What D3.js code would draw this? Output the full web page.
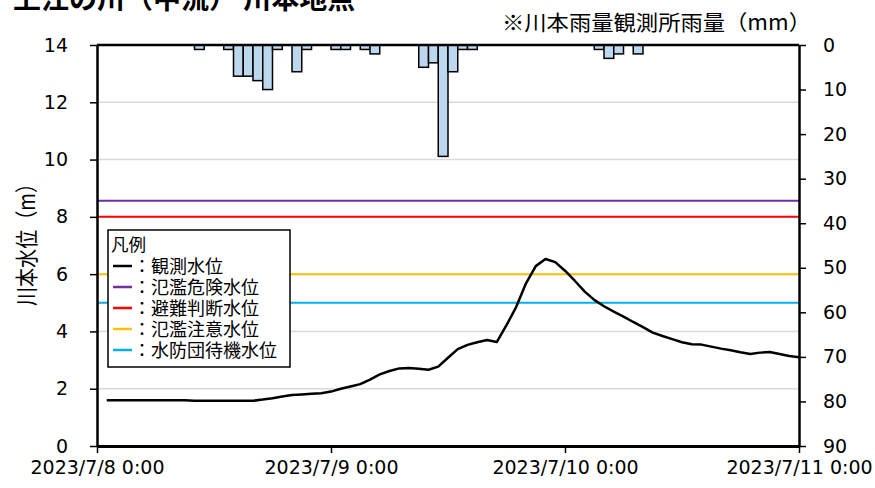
<!DOCTYPE html>
<html>
<head>
<meta charset="utf-8">
<script src="https://cdn.jsdelivr.net/npm/d3@7.9.0/dist/d3.min.js"></script>
<style>
  body { margin: 0; background: #fff; }
  svg { display: block; }
  .num { font-family: "DejaVu Sans", sans-serif; font-size: 19px; fill: #000; }
  .jp { font-family: "Noto Sans CJK JP", sans-serif; fill: #000; }
</style>
</head>
<body>
<svg id="chart" width="875" height="488"></svg>
<script>
const startTime = new Date(2023, 6, 8, 0, 0);
const endTime = new Date(2023, 6, 11, 0, 0);

// hourly water level (m), 7/8 1:00 ... 7/11 0:00
const levelValues = [
  1.60, 1.60, 1.60, 1.60, 1.60, 1.60, 1.60, 1.60, 1.60,
  1.58, 1.58, 1.58, 1.58, 1.58, 1.58, 1.58,
  1.62, 1.67, 1.73, 1.78, 1.80, 1.82, 1.84, 1.90,
  2.00, 2.08, 2.16, 2.32, 2.50, 2.62, 2.71, 2.72,
  2.70, 2.66, 2.77, 3.08, 3.38, 3.53, 3.62, 3.70,
  3.63, 4.22, 4.86, 5.68, 6.28, 6.53, 6.42, 6.12,
  5.77, 5.40, 5.10, 4.88, 4.69, 4.52, 4.33, 4.15,
  3.96, 3.84, 3.73, 3.62, 3.55, 3.54, 3.47, 3.40,
  3.34, 3.27, 3.21, 3.26, 3.28, 3.21, 3.14, 3.10
];

// hourly rainfall (mm), one value per hour from 7/8 0:00
const rainValues = [
  0, 0, 0, 0, 0, 0, 0, 0, 0, 0, 1, 0, 0, 1, 7, 7, 8, 10, 1, 0, 6, 1, 0, 0,
  1, 1, 0, 1, 2, 0, 0, 0, 0, 5, 4, 25, 6, 1, 1, 0, 0, 0, 0, 0, 0, 0, 0, 0,
  0, 0, 0, 1, 3, 2, 0, 2, 0, 0, 0, 0, 0, 0, 0, 0, 0, 0, 0, 0, 0, 0, 0, 0
];

const levelTicks = [0, 2, 4, 6, 8, 10, 12, 14];
const rainTicks = [0, 10, 20, 30, 40, 50, 60, 70, 80, 90];

const thresholdNames = ['氾濫危険水位', '避難判断水位', '氾濫注意水位', '水防団待機水位'];
const thresholdLevels = [8.56, 8.0, 6.0, 5.0];
const thresholdColors = ['#7030A0', '#FF0000', '#FFC000', '#00B0F0'];

const svg = d3.select('#chart');
const plotL = 97, plotR = 799, plotT = 45, plotB = 446;

const x = d3.scaleTime().domain([startTime, endTime]).range([plotL, plotR]);
const yLevel = d3.scaleLinear().domain([0, 14]).range([plotB, plotT]);
const yRain = d3.scaleLinear().domain([0, 90]).range([plotT, plotB]);

// title (cut off at the top edge)
svg.append('text')
  .attr('class', 'jp')
  .attr('x', 13).attr('y', 9)
  .attr('font-size', 28).attr('font-weight', 'bold')
  .text('上江の川（中流） 川本地点');

// gridlines
svg.append('g')
  .selectAll('line')
  .data(levelTicks.filter((d) => d > 0 && d < 14))
  .join('line')
  .attr('x1', plotL).attr('x2', plotR)
  .attr('y1', (d) => yLevel(d)).attr('y2', (d) => yLevel(d))
  .attr('stroke', '#D9D9D9').attr('stroke-width', 1.5);

// threshold lines
svg.append('g')
  .selectAll('line')
  .data(thresholdLevels)
  .join('line')
  .attr('x1', plotL).attr('x2', plotR)
  .attr('y1', (d) => yLevel(d)).attr('y2', (d) => yLevel(d))
  .attr('stroke', (d, i) => thresholdColors[i]).attr('stroke-width', 2);

// rain bars hanging from the top
const rainData = rainValues.map((v, i) => ({ t: d3.timeHour.offset(startTime, i), v }));
svg.append('g')
  .selectAll('rect')
  .data(rainData.filter((d) => d.v > 0))
  .join('rect')
  .attr('x', (d) => x(d.t))
  .attr('width', (d) => x(d3.timeHour.offset(d.t, 1)) - x(d.t))
  .attr('y', yRain(0))
  .attr('height', (d) => yRain(d.v) - yRain(0))
  .attr('fill', '#BDD7EE')
  .attr('stroke', '#000').attr('stroke-width', 1.5);

// water level line
const levelData = levelValues.map((v, i) => ({ t: d3.timeHour.offset(startTime, i + 1), v }));
svg.append('path')
  .datum(levelData)
  .attr('fill', 'none')
  .attr('stroke', '#000').attr('stroke-width', 2.5)
  .attr('stroke-linejoin', 'round')
  .attr('d', d3.line().x((d) => x(d.t)).y((d) => yLevel(d.v)));

// axes
const fmt = d3.timeFormat('%Y/%-m/%-d %-H:%M');
const xAxis = svg.append('g')
  .attr('transform', `translate(0,${plotB})`)
  .call(d3.axisBottom(x).tickValues(d3.timeDay.range(startTime, d3.timeHour.offset(endTime, 1))).tickFormat(fmt).tickSize(7).tickPadding(8).tickSizeOuter(0));

const yAxisL = svg.append('g')
  .attr('transform', `translate(${plotL},0)`)
  .call(d3.axisLeft(yLevel).tickValues(levelTicks).tickSize(7).tickPadding(22).tickSizeOuter(0));

const yAxisR = svg.append('g')
  .attr('transform', `translate(${plotR},0)`)
  .call(d3.axisRight(yRain).tickValues(rainTicks).tickSize(7).tickPadding(17).tickSizeOuter(0));

[xAxis, yAxisL, yAxisR].forEach((g) => {
  g.attr('font-family', null).attr('font-size', null);
  g.selectAll('text').attr('class', 'num').attr('fill', null);
  g.selectAll('line').attr('stroke', '#000').attr('stroke-width', 1.5);
  g.select('.domain').attr('stroke', '#000').attr('stroke-width', 2.5);
});
xAxis.select('.domain').attr('stroke-width', 3);

// top border
svg.append('line')
  .attr('x1', plotL).attr('x2', plotR).attr('y1', plotT).attr('y2', plotT)
  .attr('stroke', '#000').attr('stroke-width', 2.5);

// axis titles
svg.append('text')
  .attr('class', 'jp')
  .attr('transform', 'translate(35,240) rotate(-90)')
  .attr('text-anchor', 'middle')
  .attr('font-size', 23)
  .attr('textLength', 132).attr('lengthAdjust', 'spacingAndGlyphs')
  .text('川本水位（m）');

svg.append('text')
  .attr('class', 'jp')
  .attr('x', 502).attr('y', 30)
  .attr('font-size', 21)
  .attr('textLength', 309).attr('lengthAdjust', 'spacingAndGlyphs')
  .text('※川本雨量観測所雨量（mm）');

// legend
const legend = svg.append('g');
legend.append('rect')
  .attr('x', 108).attr('y', 230).attr('width', 182).attr('height', 137)
  .attr('fill', '#fff').attr('stroke', '#000').attr('stroke-width', 1.5);

legend.append('text')
  .attr('class', 'jp')
  .attr('x', 111).attr('y', 251)
  .attr('font-size', 17.5)
  .text('凡例');

const legendNames = ['観測水位', ...thresholdNames];
const legendColors = ['#000', ...thresholdColors];
legendNames.forEach((name, i) => {
  const cy = 266 + i * 21;
  legend.append('line')
    .attr('x1', 113).attr('x2', 132).attr('y1', cy).attr('y2', cy)
    .attr('stroke', legendColors[i]).attr('stroke-width', 2.5);
  legend.append('text')
    .attr('class', 'jp')
    .attr('x', 133).attr('y', cy + 6.5)
    .attr('font-size', 18)
    .text('：' + name);
});
</script>
</body>
</html>
